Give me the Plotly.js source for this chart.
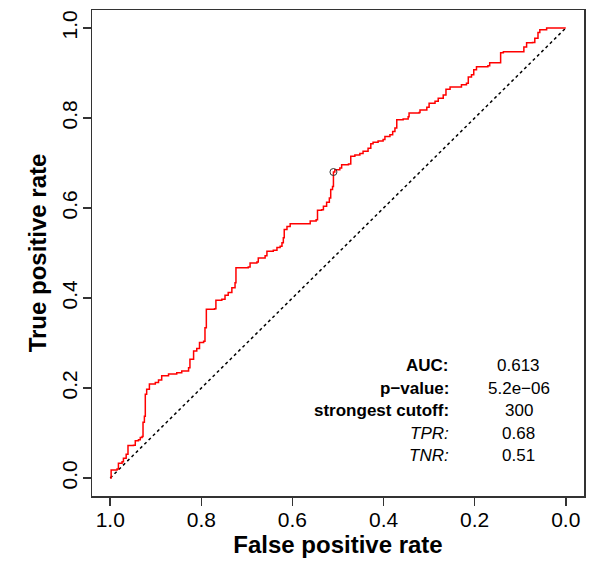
<!DOCTYPE html>
<html>
<head>
<meta charset="utf-8">
<script src="https://cdn.plot.ly/plotly-3.0.1.min.js"></script>
<style>html,body{margin:0;padding:0;background:#fff;}#chart{width:592px;height:561px;}</style>
</head>
<body>
<div id="chart"></div>
<script>
// ROC curve (x axis: specificity / TNR, shown reversed; y axis: sensitivity / TPR)
const rocSpecificity = [1.000,0.998,0.985,0.982,0.974,0.971,0.965,0.961,0.949,0.945,0.938,0.934,0.930,0.928,0.925,0.923,0.920,0.914,0.901,0.894,0.887,0.872,0.854,0.843,0.828,0.825,0.817,0.810,0.804,0.795,0.792,0.789,0.771,0.768,0.755,0.748,0.741,0.733,0.726,0.724,0.697,0.693,0.678,0.675,0.660,0.656,0.642,0.634,0.627,0.623,0.620,0.618,0.612,0.605,0.572,0.561,0.548,0.545,0.536,0.532,0.525,0.519,0.516,0.512,0.510,0.507,0.496,0.492,0.477,0.472,0.463,0.452,0.445,0.434,0.428,0.423,0.412,0.401,0.397,0.386,0.380,0.375,0.371,0.357,0.346,0.344,0.322,0.320,0.305,0.300,0.287,0.280,0.269,0.263,0.254,0.232,0.229,0.218,0.214,0.207,0.202,0.196,0.171,0.167,0.145,0.143,0.137,0.097,0.092,0.086,0.073,0.068,0.061,0.057,0.042,0.000];
const rocSensitivity = [0.000,0.018,0.020,0.033,0.036,0.044,0.053,0.072,0.073,0.083,0.085,0.090,0.092,0.124,0.137,0.186,0.197,0.209,0.212,0.218,0.227,0.231,0.234,0.238,0.245,0.264,0.282,0.288,0.301,0.304,0.334,0.375,0.376,0.395,0.397,0.406,0.412,0.423,0.434,0.467,0.469,0.478,0.480,0.489,0.494,0.504,0.506,0.512,0.515,0.523,0.534,0.552,0.559,0.565,0.565,0.571,0.574,0.595,0.596,0.604,0.613,0.622,0.641,0.648,0.680,0.685,0.689,0.696,0.698,0.715,0.718,0.721,0.726,0.733,0.743,0.746,0.749,0.752,0.759,0.763,0.770,0.778,0.796,0.798,0.803,0.811,0.812,0.818,0.824,0.833,0.837,0.844,0.851,0.864,0.869,0.869,0.874,0.877,0.891,0.896,0.907,0.914,0.916,0.923,0.923,0.945,0.947,0.947,0.958,0.967,0.968,0.977,0.990,0.996,1.000,1.000];

const chanceX = [1, 0];
const chanceY = [0, 1];

const cutoffTNR = [0.51];
const cutoffTPR = [0.68];

const statLabels = ["AUC:", "p\u2212value:", "strongest cutoff:", "TPR:", "TNR:"];
const statValues = ["0.613", "5.2e\u221206", "300", "0.68", "0.51"];
const statBold = [true, true, true, false, false];
const statY = [0.25, 0.20, 0.15, 0.10, 0.05];

const tickVals = [0, 0.2, 0.4, 0.6, 0.8, 1.0];
const tickText = ["0.0", "0.2", "0.4", "0.6", "0.8", "1.0"];

const FONT = "Liberation Sans, Arial, Helvetica, sans-serif";

const traces = [
  {x: chanceX, y: chanceY, mode: "lines", type: "scatter",
   line: {color: "#000", width: 1.5, dash: "dot"}, hoverinfo: "skip"},
  {x: rocSpecificity, y: rocSensitivity, mode: "lines", type: "scatter",
   line: {color: "#ff0000", width: 1.5, shape: "hv"}, hoverinfo: "skip"},
  {x: cutoffTNR, y: cutoffTPR, mode: "markers", type: "scatter",
   marker: {symbol: "circle-open", size: 7, color: "#333", line: {width: 1, color: "#333"}}, hoverinfo: "skip"}
];

const annotations = [];
statLabels.forEach((t, i) => {
  annotations.push({
    x: 0.252, y: statY[i], xref: "x", yref: "y", xanchor: "right", yanchor: "middle",
    text: statBold[i] ? "<b>" + t + "</b>" : "<i>" + t + "</i>",
    showarrow: false, font: {family: FONT, size: 17, color: "#000"}
  });
  annotations.push({
    x: 0.103, y: statY[i], xref: "x", yref: "y", xanchor: "center", yanchor: "middle",
    text: statValues[i], showarrow: false, font: {family: FONT, size: 17, color: "#000"}
  });
});

const axisCommon = {
  range: [-0.04, 1.04], tickvals: tickVals, ticktext: tickText,
  showgrid: false, zeroline: false, showline: true, mirror: true,
  linecolor: "#333", linewidth: 1.5, ticks: "outside", ticklen: 8,
  tickcolor: "#333", tickwidth: 1.5,
  tickfont: {family: FONT, size: 21, color: "#000"}
};

const layout = {
  width: 592, height: 561,
  margin: {l: 92, r: 8, t: 10, b: 65},
  paper_bgcolor: "#fff", plot_bgcolor: "#fff",
  showlegend: false,
  xaxis: Object.assign({}, axisCommon, {
    range: [1.04, -0.04],
    ticklabelstandoff: -4,
    title: {text: "<b>False positive rate</b>", font: {family: FONT, size: 24, color: "#000"}, standoff: 6}
  }),
  yaxis: Object.assign({}, axisCommon, {
    tickangle: -90,
    ticklabelstandoff: -3,
    title: {text: "<b>True positive rate</b>", font: {family: FONT, size: 24, color: "#000"}, standoff: 4}
  }),
  annotations: annotations
};

Plotly.newPlot("chart", traces, layout, {displayModeBar: false, staticPlot: true});
</script>
</body>
</html>
